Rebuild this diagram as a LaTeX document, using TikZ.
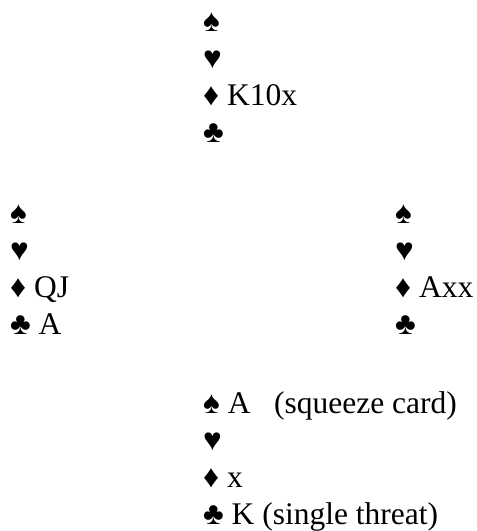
\documentclass[tikz,border=0pt]{standalone}
\usepackage{fontspec}
\setmainfont{Liberation Serif}
\usepackage{tikz}

\begin{document}
\begin{tikzpicture}[x=1pt,y=-1pt,
  card/.style={anchor=base west,inner sep=0pt,font=\fontsize{31.5}{37}\selectfont}]

\useasboundingbox (0,0) rectangle (477,531);

% North
\node[card] (nS) at (203,31)  {♠};
\node[card] (nH) at (203,68)  {♥};
\node[card] (nD) at (203,105) {♦ K10x};
\node[card] (nC) at (203,142) {♣};

% West
\node[card] (wS) at (10,223) {♠};
\node[card] (wH) at (10,260) {♥};
\node[card] (wD) at (10,297) {♦ QJ};
\node[card] (wC) at (10,334) {♣ A};

% East
\node[card] (eS) at (395,223) {♠};
\node[card] (eH) at (395,260) {♥};
\node[card] (eD) at (395,297) {♦ Axx};
\node[card] (eC) at (395,334) {♣};

% South
\node[card] (sS) at (203,413) {♠ A\ \ \ (squeeze card)};
\node[card] (sH) at (203,450) {♥};
\node[card] (sD) at (203,487) {♦ x};
\node[card] (sC) at (203,524) {♣ K (single threat)};

\end{tikzpicture}
\end{document}
